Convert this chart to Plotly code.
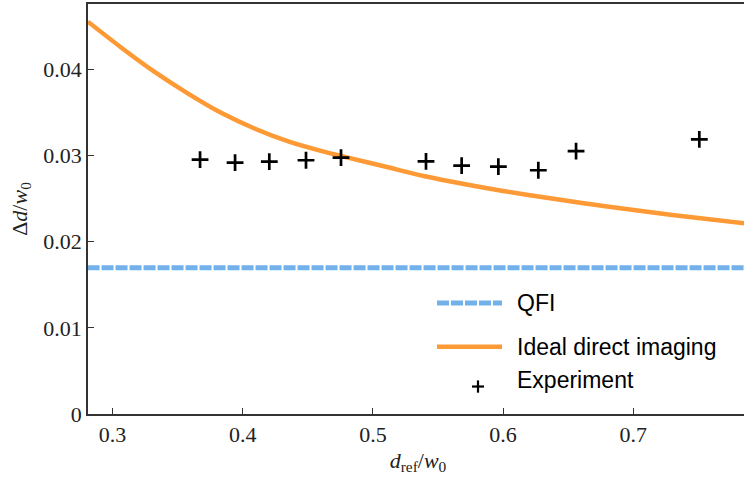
import plotly.graph_objects as go

# ---- data ----
exp_x = [0.3672, 0.3941, 0.4204, 0.4486, 0.4755, 0.5408, 0.5682, 0.5964, 0.6271, 0.6561, 0.7508]
exp_y = [0.02954, 0.02919, 0.02931, 0.02946, 0.02977, 0.02934, 0.02884, 0.02873, 0.02830, 0.03053, 0.03189]

ideal_x = [0.281, 0.307, 0.332, 0.358, 0.383, 0.409, 0.435, 0.460, 0.480, 0.510,
           0.540, 0.570, 0.600, 0.640, 0.680, 0.730, 0.790]
ideal_y = [0.04555, 0.04250, 0.03975, 0.03720, 0.03500, 0.03315, 0.03165, 0.03055, 0.02980, 0.02870,
           0.02760, 0.02670, 0.02590, 0.02495, 0.02410, 0.02310, 0.02205]

qfi_x = [0.270, 0.800]
qfi_y = [0.01697, 0.01697]

x_ticks = [0.3, 0.4, 0.5, 0.6, 0.7]
x_ticktext = ["0.3", "0.4", "0.5", "0.6", "0.7"]
y_ticks = [0, 0.01, 0.02, 0.03, 0.04]
y_ticktext = ["0", "0.01", "0.02", "0.03", "0.04"]

BLUE = "#72b1ea"
ORANGE = "#fd9a36"
SERIF = "Liberation Serif, Times New Roman, serif"
SANS = "Liberation Sans, Arial, sans-serif"

W = 748  # figure a little wider than the window so the right edge falls off-screen

fig = go.Figure()
fig.add_trace(go.Scatter(x=qfi_x, y=qfi_y, mode="lines", name="QFI",
                         line=dict(color=BLUE, width=5, dash="12px,2px"), showlegend=False))
fig.add_trace(go.Scatter(x=ideal_x, y=ideal_y, mode="lines", name="Ideal direct imaging",
                         line=dict(color=ORANGE, width=4.5, shape="spline", smoothing=0.8), showlegend=False))
fig.add_trace(go.Scatter(x=exp_x, y=exp_y, mode="markers", name="Experiment",
                         marker=dict(symbol="cross-thin", size=12, line=dict(color="black", width=2.7)),
                         showlegend=False))

# ---- manual legend (paper coordinates) ----
pw = W - 88.0
def px(x):
    return (x - 88.0) / pw
lx0, lx1, tx = px(437), px(502), px(515)
rows = [0.271, 0.164, 0.083]
fig.add_shape(type="line", xref="paper", yref="paper", x0=lx0, x1=lx1, y0=rows[0], y1=rows[0],
              line=dict(color=BLUE, width=5, dash="12px,2px"))
fig.add_shape(type="line", xref="paper", yref="paper", x0=lx0, x1=lx1, y0=rows[1], y1=rows[1],
              line=dict(color=ORANGE, width=4.5))
cx, cy, hx, hy = px(478), 0.067, 6.0 / pw, 0.015
fig.add_shape(type="line", xref="paper", yref="paper", x0=cx - hx, x1=cx + hx, y0=cy, y1=cy,
              line=dict(color="black", width=2.2))
fig.add_shape(type="line", xref="paper", yref="paper", x0=cx, x1=cx, y0=cy - hy, y1=cy + hy,
              line=dict(color="black", width=2.2))
for label, yy in zip(["QFI", "Ideal direct imaging", "Experiment"], rows):
    fig.add_annotation(xref="paper", yref="paper", x=tx, y=yy, text=label, showarrow=False,
                       xanchor="left", yanchor="middle", font=dict(family=SANS, size=23, color="black"))

axis_common = dict(showline=True, linecolor="#333333", linewidth=1.5, ticks="inside", ticklen=6,
                   tickcolor="#333333", tickwidth=1, showgrid=False, zeroline=False, automargin=False,
                   tickfont=dict(family=SERIF, size=22, color="#222222"))

x_right = 0.3 + (W - 112.6) / 1301.5
fig.update_xaxes(range=[0.2811, x_right], tickvals=x_ticks, ticktext=x_ticktext, mirror=True,
                 title=dict(text="<i>d</i><sub>ref</sub>/<i>w</i><sub>0</sub>",
                            font=dict(family=SERIF, size=22, color="#222222"), standoff=6),
                 **axis_common)
fig.update_yaxes(range=[0, 0.0476], tickvals=y_ticks, ticktext=y_ticktext, mirror=False,
                 title=dict(text="Δ<i>d</i>/<i>w</i><sub>0</sub>",
                            font=dict(family=SERIF, size=22, color="#222222"), standoff=10),
                 **axis_common)

fig.update_layout(width=W, height=495, margin=dict(l=88, r=0, t=4, b=81, pad=0, autoexpand=False),
                  plot_bgcolor="white", paper_bgcolor="white", showlegend=False)

fig.write_html("out.html", config={"displayModeBar": False},
               post_script="document.documentElement.style.overflow='hidden';"
                           "document.body.style.margin='0';document.body.style.overflow='hidden';")
